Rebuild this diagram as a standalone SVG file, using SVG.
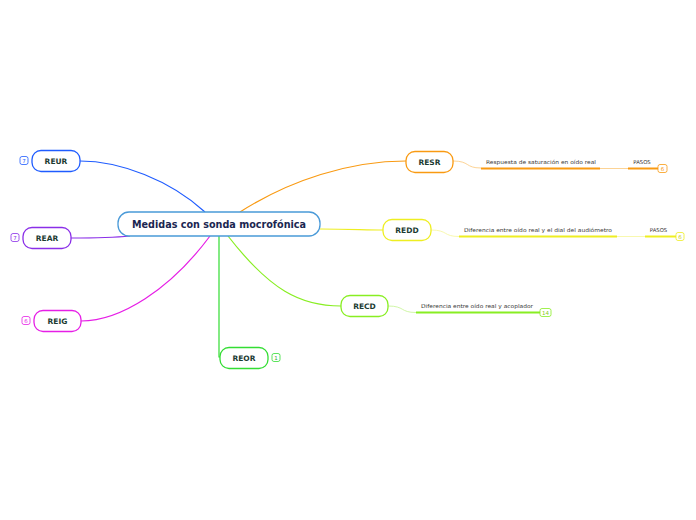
<svg xmlns="http://www.w3.org/2000/svg" width="696" height="520" viewBox="0 0 696 520">
<style>
.node{fill:#fff;stroke-width:1.3}
.lbl{font-family:"DejaVu Sans",Verdana,sans-serif;font-weight:bold;font-size:7.5px;fill:#1b3b32;text-anchor:middle}
.main{font-family:"DejaVu Sans",Verdana,sans-serif;font-weight:bold;font-size:10px;fill:#1a2650;text-anchor:middle}
.sub{font-family:"DejaVu Sans",Verdana,sans-serif;font-size:5.3px;fill:#333;text-anchor:middle}
.badge{fill:#fff;stroke-width:0.8}
.btx{font-family:"DejaVu Sans",Verdana,sans-serif;font-size:5.5px;text-anchor:middle}
.c{fill:none;stroke-width:1.2}
</style>
<rect width="696" height="520" fill="#fff"/>
<g id="connectors">
<path class="c" stroke="#1f5cff" d="M205 212 C170 180 120 161 80 161"/>
<path class="c" stroke="#8a2ee8" d="M130 236 C110 238 90 238 71 238"/>
<path class="c" stroke="#e61ee6" d="M210 236 C170 290 120 321 81 321"/>
<path class="c" stroke="#33dd33" d="M219 236 L219 357 L220 357"/>
<path class="c" stroke="#f99a12" d="M240 212 C290 180 350 161 406 161"/>
<path class="c" stroke="#eeee22" d="M320 229 C350 229 365 230 383 230"/>
<path class="c" stroke="#88ee22" d="M228 236 C270 290 300 306 341 306"/>
<path fill="none" stroke="#fbc87a" stroke-width="0.8" d="M453 161 C470 161 465 168 481 168"/>
<path fill="none" stroke="#f99a12" stroke-width="2" d="M481 168.5 L600 168.5"/>
<path fill="none" stroke="#fbc87a" stroke-width="0.8" d="M600 168.5 L628 168.5"/>
<path fill="none" stroke="#f99a12" stroke-width="2" d="M628 168.5 L658 168.5"/>
<path fill="none" stroke="#f6f69a" stroke-width="0.8" d="M431 230 C448 230 443 236.5 459 236.5"/>
<path fill="none" stroke="#eeee22" stroke-width="2" d="M459 236.5 L617 236.5"/>
<path fill="none" stroke="#f6f69a" stroke-width="0.8" d="M617 236.5 L645 236.5"/>
<path fill="none" stroke="#eeee22" stroke-width="2" d="M645 236.5 L676 236.5"/>
<path fill="none" stroke="#c4f490" stroke-width="0.8" d="M388 306 C405 306 400 312.5 416 312.5"/>
<path fill="none" stroke="#88ee22" stroke-width="2" d="M416 312.5 L540 312.5"/>
</g>
<g id="central">
<rect class="node" x="118" y="212" width="202" height="24" rx="11" stroke="#4a9ad8"/>
<text class="main" x="219" y="227.5" textLength="174" lengthAdjust="spacingAndGlyphs">Medidas con sonda mocrofónica</text>
</g>
<g id="REUR">
<rect class="node" x="32" y="150.5" width="48" height="21" rx="9" stroke="#1f5cff"/>
<text class="lbl" x="56" y="163.8">REUR</text>
<rect class="badge" x="20" y="156.5" width="8" height="8" rx="2" stroke="#1f5cff"/>
<text class="btx" x="24" y="162.5" fill="#1f5cff">7</text>
</g>
<g id="REAR">
<rect class="node" x="23" y="227.5" width="48" height="21" rx="9" stroke="#8a2ee8"/>
<text class="lbl" x="47" y="240.8">REAR</text>
<rect class="badge" x="11" y="233.5" width="8" height="8" rx="2" stroke="#8a2ee8"/>
<text class="btx" x="15" y="239.5" fill="#8a2ee8">7</text>
</g>
<g id="REIG">
<rect class="node" x="34" y="310.5" width="47" height="21" rx="9" stroke="#e61ee6"/>
<text class="lbl" x="57.5" y="323.8">REIG</text>
<rect class="badge" x="22" y="316.5" width="8" height="8" rx="2" stroke="#e61ee6"/>
<text class="btx" x="26" y="322.5" fill="#e61ee6">6</text>
</g>
<g id="REOR">
<rect class="node" x="220" y="347.5" width="48" height="21" rx="9" stroke="#33dd33"/>
<text class="lbl" x="244" y="360.8">REOR</text>
<rect class="badge" x="272" y="353.5" width="8" height="8" rx="2" stroke="#33dd33"/>
<text class="btx" x="276" y="359.5" fill="#33aa33">1</text>
</g>
<g id="RESR">
<rect class="node" x="406" y="151.5" width="47" height="21" rx="9" stroke="#f99a12"/>
<text class="lbl" x="429.5" y="164.8">RESR</text>
<text class="sub" x="541" y="164" textLength="110" lengthAdjust="spacingAndGlyphs">Respuesta de saturación en oído real</text>
<text class="sub" x="642" y="164">PASOS</text>
<rect class="badge" x="658" y="164.5" width="9" height="8" rx="2" stroke="#f99a12"/>
<text class="btx" x="662.5" y="170.5" fill="#f99a12">6</text>
</g>
<g id="REDD">
<rect class="node" x="383" y="219.5" width="48" height="21" rx="9" stroke="#eeee22"/>
<text class="lbl" x="407" y="232.8">REDD</text>
<text class="sub" x="538" y="232" textLength="148" lengthAdjust="spacingAndGlyphs">Diferencia entre oído real y el dial del audiómetro</text>
<text class="sub" x="658.5" y="232">PASOS</text>
<rect class="badge" x="676" y="232.5" width="8" height="8" rx="2" stroke="#eeee22"/>
<text class="btx" x="680" y="238.5" fill="#cccc22">6</text>
</g>
<g id="RECD">
<rect class="node" x="341" y="295.5" width="47" height="21" rx="9" stroke="#88ee22"/>
<text class="lbl" x="364.5" y="308.8">RECD</text>
<text class="sub" x="477" y="308" textLength="112" lengthAdjust="spacingAndGlyphs">Diferencia entre oído real y acoplador</text>
<rect class="badge" x="540" y="308.5" width="11" height="8" rx="2" stroke="#88ee22"/>
<text class="btx" x="545.5" y="314.5" fill="#88cc22">14</text>
</g>
</svg>
